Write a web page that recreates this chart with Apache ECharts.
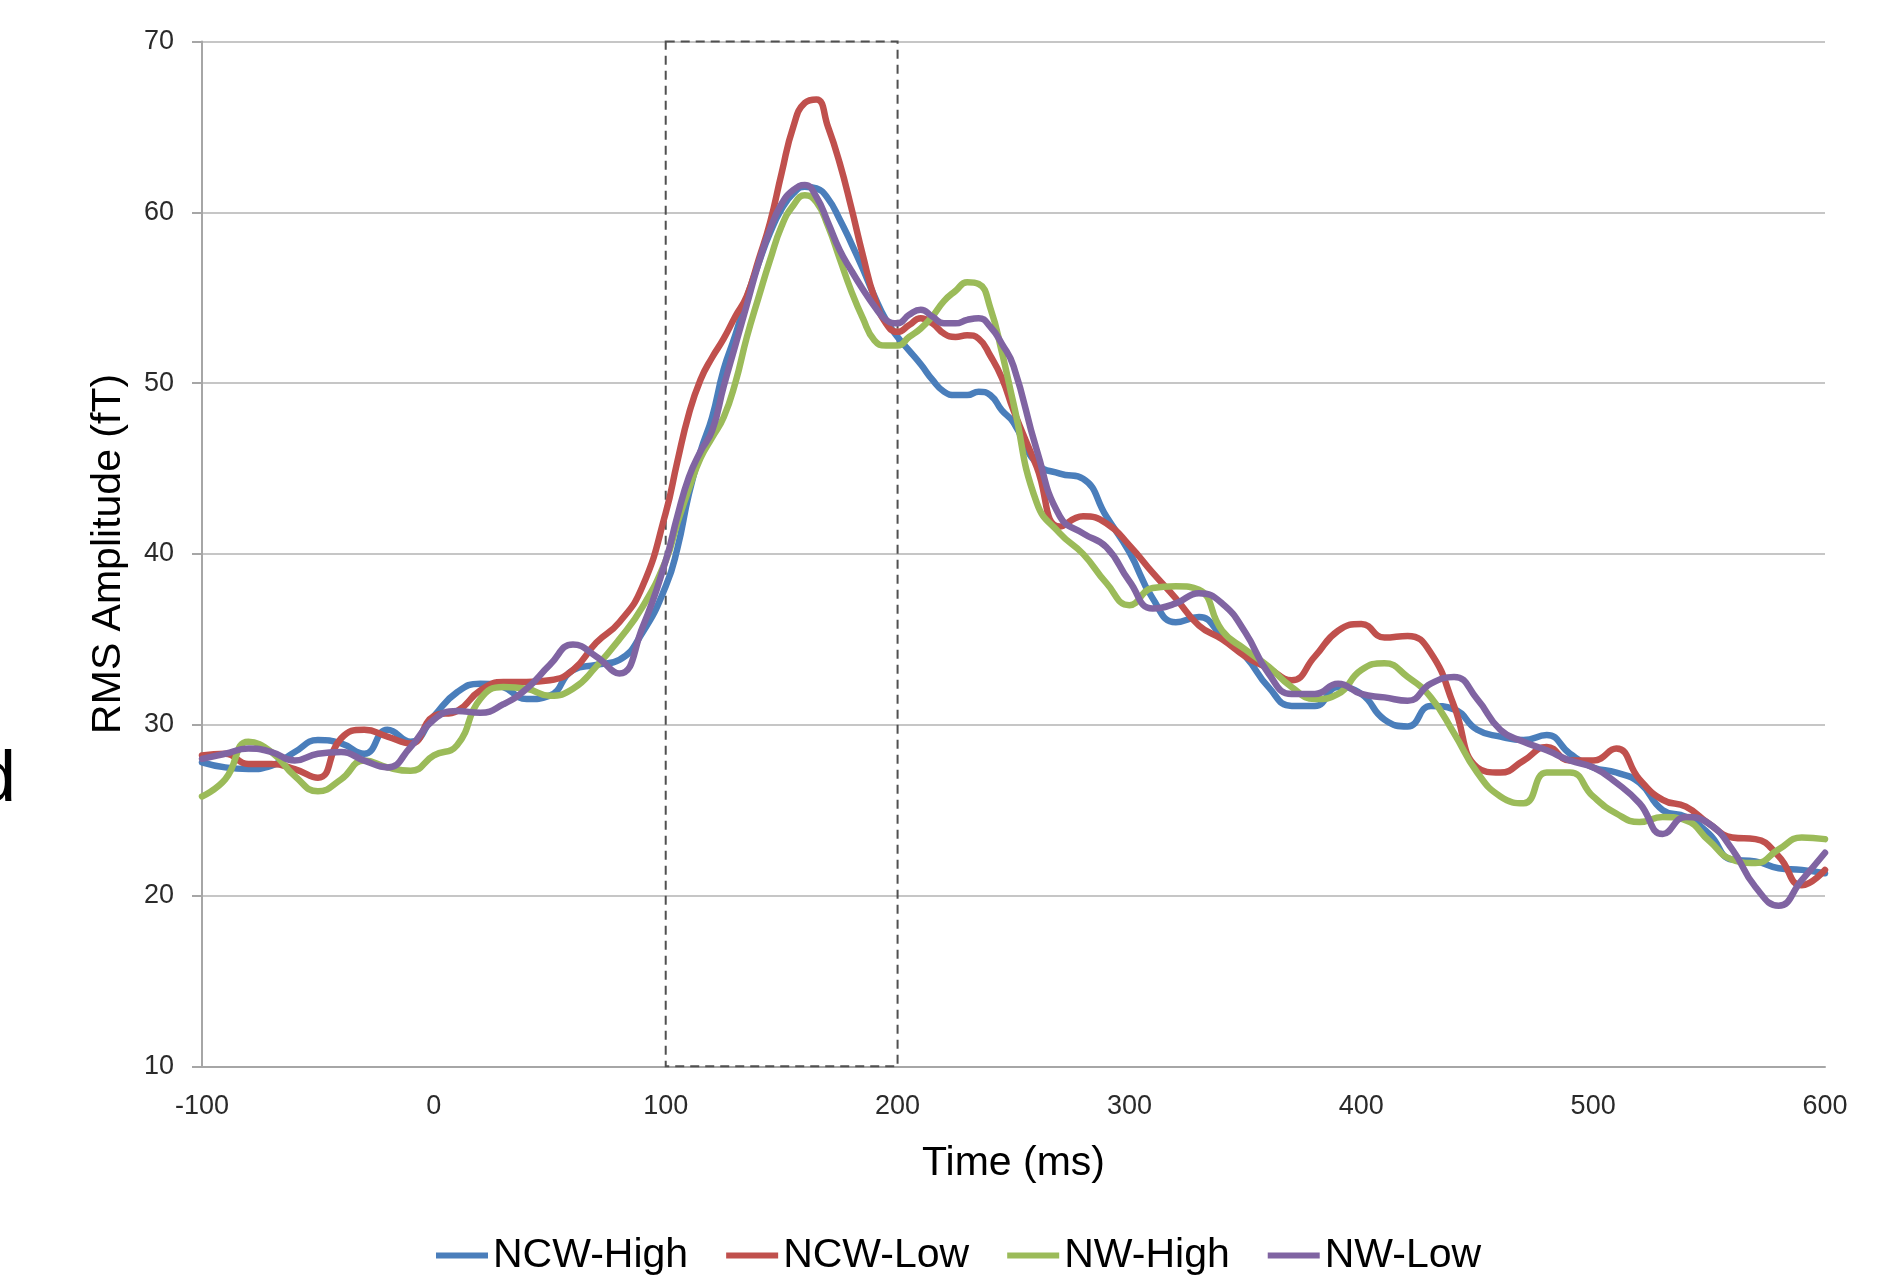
<!DOCTYPE html>
<html>
<head>
<meta charset="utf-8">
<script src="https://cdn.jsdelivr.net/npm/echarts@6/dist/echarts.min.js"></script>
<style>
html,body{margin:0;padding:0;background:#fff;}
#chart{width:1889px;height:1279px;}
</style>
</head>
<body>
<div id="chart"></div>
<script>
const times = [-100,-90,-80,-70,-60,-50,-40,-30,-20,-10,0,10,20,30,40,50,60,70,80,90,100,
  105,110,115,120,125,130,135,140,145,150,155,160,165,170,175,180,185,190,195,200,205,210,215,220,225,230,235,240,245,250,
  260,270,280,290,300,310,320,330,340,350,360,370,380,390,400,410,420,430,440,450,460,470,480,490,500,510,520,530,540,550,560,570,580,590,600];

const ncwHigh = [27.8,27.5,27.4,27.6,28.4,29.1,28.9,28.3,29.7,29.0,30.5,31.9,32.4,32.2,31.5,31.7,33.2,33.5,33.8,35.4,38.1,
  40.3,43.5,46.0,48.0,50.8,52.8,55.0,57.0,58.8,60.2,61.1,61.5,61.4,60.8,59.6,58.2,56.7,55.1,53.7,52.7,51.9,51.1,50.2,49.5,49.3,49.3,49.5,49.3,48.4,47.7,
  45.3,44.7,44.4,42.2,40.1,37.4,36.0,36.3,35.2,34.0,32.2,31.1,31.1,32.2,31.8,30.3,29.9,31.1,30.9,29.7,29.3,29.1,29.4,28.3,27.5,27.2,26.6,25.0,24.6,23.6,22.1,22.0,21.6,21.5,21.3];

const ncwLow = [28.2,28.3,27.7,27.7,27.4,26.9,29.2,29.7,29.3,28.9,30.5,30.8,32.0,32.5,32.5,32.6,33.2,34.8,36.0,38.1,42.4,
  45.4,48.2,50.2,51.5,52.6,53.9,55.1,57.2,59.4,62.3,65.0,66.4,66.6,65.0,62.9,60.3,57.5,55.0,53.5,53.0,53.4,53.8,53.5,52.9,52.7,52.8,52.6,51.6,50.3,48.4,
  45.1,41.6,42.2,41.8,40.5,38.9,37.4,35.8,35.0,34.0,33.3,32.6,34.0,35.5,35.9,35.1,35.2,34.2,31.1,27.5,27.2,27.9,28.7,27.9,27.9,28.6,26.8,25.6,25.2,24.2,23.4,23.3,22.3,20.6,21.5];

const nwHigh = [25.8,26.8,29.0,28.4,27.0,26.1,26.8,27.9,27.5,27.3,28.2,28.8,31.5,32.2,32.1,31.7,32.1,33.4,35.0,36.9,39.6,
  41.8,43.8,45.6,46.8,48.0,50.0,52.7,55.0,57.2,59.2,60.4,61.0,60.6,59.2,57.3,55.4,53.8,52.5,52.2,52.2,52.7,53.2,53.9,54.8,55.4,55.9,55.8,54.4,51.8,48.8,
  43.0,41.2,40.0,38.3,37.0,38.0,38.1,37.9,35.5,34.4,33.4,32.2,31.5,31.8,33.2,33.6,32.8,31.6,29.5,27.2,25.8,25.4,27.2,27.2,25.8,24.8,24.3,24.6,24.4,23.2,22.1,21.9,22.7,23.4,23.3];

const nwLow = [28.0,28.3,28.6,28.4,27.9,28.3,28.4,27.9,27.5,28.7,30.3,30.8,30.7,31.2,32.1,33.5,34.7,34.0,33.0,35.7,39.6,
  42.2,44.5,46.0,47.2,49.8,52.2,54.6,57.0,59.0,60.5,61.3,61.6,60.9,59.4,57.8,56.6,55.5,54.5,53.7,53.5,54.0,54.3,53.9,53.5,53.5,53.7,53.8,53.3,52.3,51.0,
  46.1,42.2,41.2,40.4,38.4,36.8,37.1,37.7,37.1,35.4,33.0,31.8,31.8,32.4,31.8,31.6,31.4,32.4,32.8,31.5,29.7,29.0,28.5,27.9,27.5,26.6,25.4,23.6,24.6,24.2,22.7,20.5,19.4,20.9,22.5];

const seriesNames = ['NCW-High','NCW-Low','NW-High','NW-Low'];
const seriesValues = [ncwHigh, ncwLow, nwHigh, nwLow];
const seriesColors = ['#4A7EBB','#C0504D','#9BBB59','#8064A2'];
const boxRange = [100, 200];
const yRange = [10, 70];
const xRange = [-100, 600];

const FONT = '"Liberation Sans", Arial, sans-serif';

const series = seriesNames.map((name, k) => {
  const s = {
    name: name,
    type: 'line',
    symbol: 'none',
    smooth: 0.5,
    data: times.map((t, i) => [t, seriesValues[k][i]]),
    lineStyle: { width: 6.5, color: seriesColors[k], cap: 'round', join: 'round' },
    itemStyle: { color: seriesColors[k] },
    emphasis: { disabled: true },
    z: 3 + k
  };
  if (k === 0) {
    s.markArea = {
      silent: true,
      z: 1,
      itemStyle: {
        color: 'rgba(0,0,0,0)',
        borderColor: '#505050',
        borderWidth: 2,
        borderType: [9, 6]
      },
      data: [[{ xAxis: boxRange[0], yAxis: yRange[1] }, { xAxis: boxRange[1], yAxis: yRange[0] }]]
    };
  }
  return s;
});

const chart = echarts.init(document.getElementById('chart'), null, { renderer: 'canvas' });
chart.setOption({
  animation: false,
  backgroundColor: '#ffffff',
  grid: { left: 202, right: 64, top: 41.5, bottom: 212.7, containLabel: false },
  xAxis: {
    type: 'value',
    min: xRange[0], max: xRange[1], interval: 100,
    name: 'Time (ms)',
    nameLocation: 'middle',
    nameGap: 77,
    nameTextStyle: { fontFamily: FONT, fontSize: 41, color: '#000' },
    axisLine: { show: true, onZero: false, lineStyle: { color: '#a6a6a6', width: 2 } },
    axisTick: { show: false },
    splitLine: { show: false },
    axisLabel: { fontFamily: FONT, fontSize: 27, color: '#2a2a2a', margin: 27 }
  },
  yAxis: {
    type: 'value',
    min: yRange[0], max: yRange[1], interval: 10,
    name: 'RMS Amplitude (fT)',
    nameLocation: 'middle',
    nameGap: 73,
    nameTextStyle: { fontFamily: FONT, fontSize: 41, color: '#000' },
    axisLine: { show: true, onZero: false, lineStyle: { color: '#a6a6a6', width: 2 } },
    axisTick: { show: true, length: 10, lineStyle: { color: '#a6a6a6', width: 2 } },
    splitLine: { show: true, lineStyle: { color: '#b3b3b3', width: 1.5 } },
    axisLabel: { fontFamily: FONT, fontSize: 27, color: '#2a2a2a', margin: 28 }
  },
  legend: {
    data: seriesNames,
    left: 436,
    top: 1235,
    padding: 0,
    icon: 'rect',
    itemWidth: 52,
    itemHeight: 6,
    itemGap: 38,
    textStyle: { fontFamily: FONT, fontSize: 41, color: '#000' }
  },
  graphic: [{
    type: 'text',
    left: -24,
    top: 745,
    silent: true,
    style: { text: 'd', fontFamily: FONT, fontSize: 72, fill: '#000' }
  }],
  series: series
});
</script>
</body>
</html>
